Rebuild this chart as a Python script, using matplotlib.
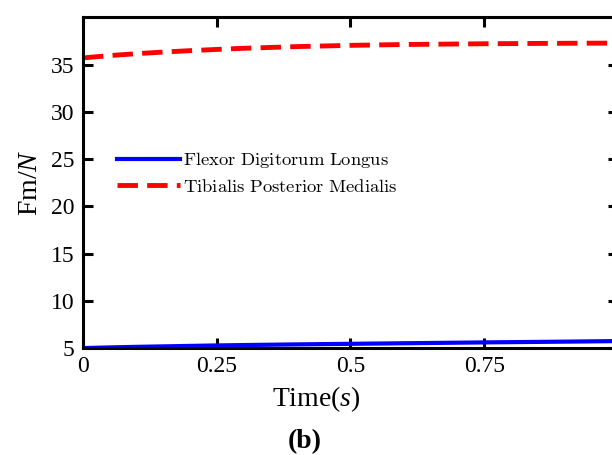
import matplotlib
matplotlib.use("Agg")
import matplotlib.pyplot as plt
from matplotlib.font_manager import FontProperties
import numpy as np

# === Dati muscoli ===
tempo = [0.0, 0.05, 0.1, 0.15, 0.2, 0.25, 0.3, 0.4, 0.5, 0.6, 0.75, 0.9, 1.0]
fdl = [5.0, 5.07, 5.13, 5.18, 5.23, 5.28, 5.32, 5.39, 5.45, 5.51, 5.6, 5.68, 5.74]
tpm = [35.7, 35.95, 36.15, 36.32, 36.47, 36.6, 36.72, 36.9, 37.03, 37.12, 37.2, 37.25, 37.27]

xticks = [0, 0.25, 0.5, 0.75]
xtick_labels = ["0", "0.25", "0.5", "0.75"]
yticks = [5, 10, 15, 20, 25, 30, 35]

plt.rcParams["font.family"] = "Liberation Serif"
plt.rcParams["mathtext.fontset"] = "custom"
plt.rcParams["mathtext.rm"] = "Liberation Serif"
plt.rcParams["mathtext.it"] = "Liberation Serif:italic"

fig = plt.figure(figsize=(6.12, 4.55), dpi=100)
ax = fig.add_axes([0.1356, 0.235, 0.874, 0.727])

ax.plot(tempo, fdl, color="#0000ff", linewidth=3.0,
        label=r"$\mathrm{Flexor\ Digitorum\ Longus}$")
ax.plot(tempo, tpm, color="#ff0000", linewidth=3.5, dashes=(4.2, 1.9),
        label=r"$\mathrm{Tibialis\ Posterior\ Medialis}$")

ax.set_xlim(0, 1)
ax.set_ylim(5, 40)
ax.set_xticks(xticks)
ax.set_xticklabels(xtick_labels)
ax.set_yticks(yticks)

for s in ax.spines.values():
    s.set_linewidth(2.2)
ax.tick_params(direction="in", length=7, width=2.2, labelsize=17,
               top=True, right=True)
ax.tick_params(axis="y", pad=6)
ax.tick_params(axis="x", pad=6)

ax.set_xlabel(r"Time$(s)$", fontsize=20)
ax.xaxis.set_label_coords(0.437, -0.11)
ax.set_ylabel(r"Fm/$N$", fontsize=20)
ax.yaxis.set_label_coords(-0.075, 0.5)

leg = ax.legend(loc="center left", bbox_to_anchor=(0.0636, 0.529), frameon=False,
                prop=FontProperties(size=13.4, math_fontfamily="cm"),
                handlelength=3.4, handletextpad=0.15, labelspacing=0.45,
                borderaxespad=0, borderpad=0)

fig.text(0.498, 0.03, "(b)", ha="center", va="center", fontsize=20,
         fontweight="bold")

fig.savefig("out.png", dpi=100)
